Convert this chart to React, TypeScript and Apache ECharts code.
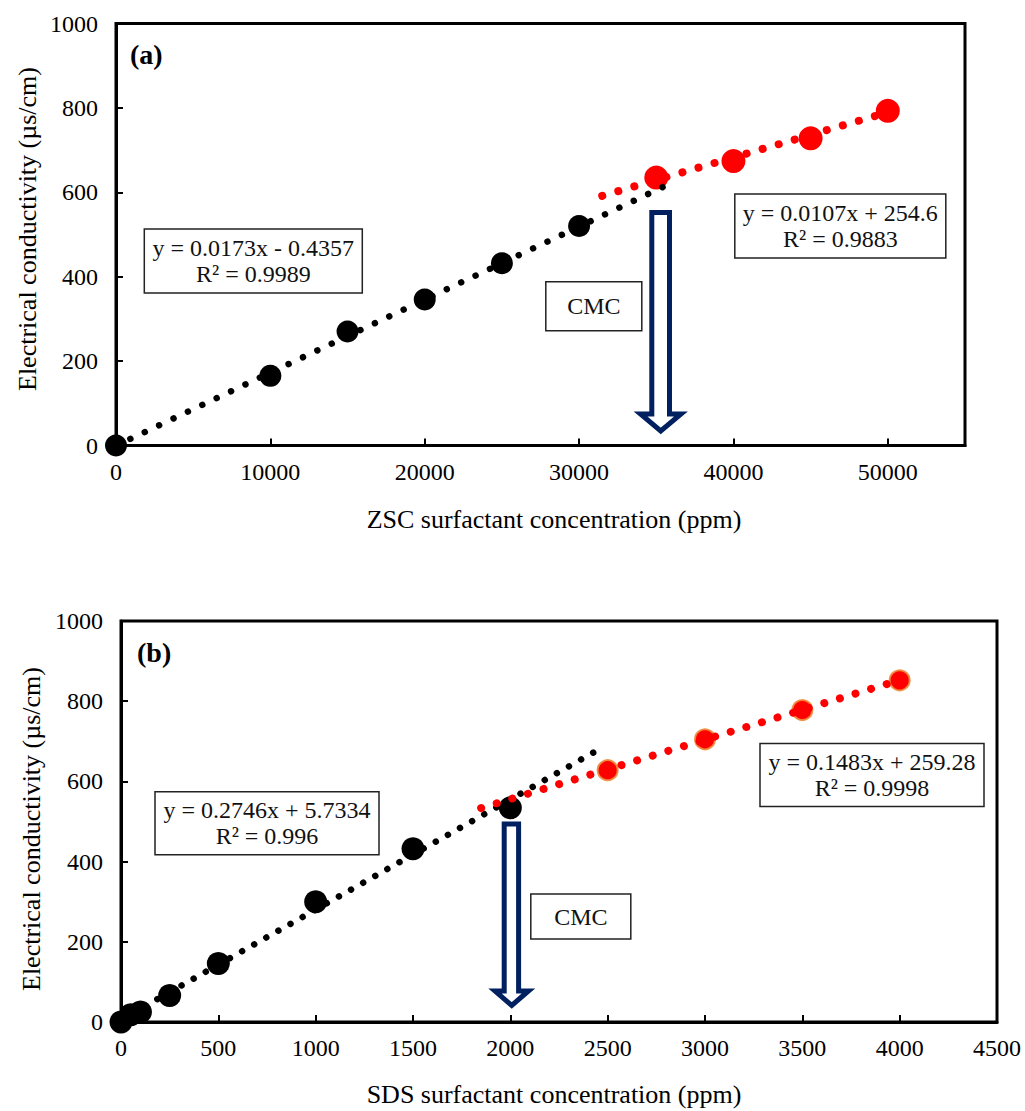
import React, { useEffect, useRef } from 'react';
import * as echarts from 'echarts';

// ---------- data ----------
const zscBelowX = [0, 10000, 15000, 20000, 25000, 30000];
const zscBelowY = [0, 165, 270, 346, 432, 520];
const zscAboveX = [35000, 40000, 45000, 50000];
const zscAboveY = [635, 674, 728, 793];
const zscFitBelow = [[0, -0.4357], [35700, 617.2]];
const zscFitAbove = [[31500, 591.6], [50000, 789.6]];

const sdsBelowX = [0, 50, 100, 250, 500, 1000, 1500, 2000];
const sdsBelowY = [0, 18, 25, 66, 146, 300, 432, 534];
const sdsAboveX = [2500, 3000, 3500, 4000];
const sdsAboveY = [628, 705, 778, 852];
const sdsFitBelow = [[0, 5.7334], [2450, 678.5]];
const sdsFitAbove = [[1850, 533.6], [4000, 852.5]];

const yTicks = [0, 200, 400, 600, 800, 1000];
const xTicksZsc = [0, 10000, 20000, 30000, 40000, 50000];
const xMaxZsc = 55000;
const xTicksSds = [0, 500, 1000, 1500, 2000, 2500, 3000, 3500, 4000, 4500];

const eqZscBelow = ['y = 0.0173x - 0.4357', 'R² = 0.9989'];
const eqZscAbove = ['y = 0.0107x + 254.6', 'R² = 0.9883'];
const eqSdsBelow = ['y = 0.2746x + 5.7334', 'R² = 0.996'];
const eqSdsAbove = ['y = 0.1483x + 259.28', 'R² = 0.9998'];

const yTitle = 'Electrical conductivity (µs/cm)';
const xTitleZsc = 'ZSC surfactant concentration (ppm)';
const xTitleSds = 'SDS surfactant concentration (ppm)';

// ---------- styling helpers ----------
const SERIF = '"Liberation Serif", "Times New Roman", serif';
const NAVY = '#002060';

const zip = (xs: number[], ys: number[]) => xs.map((x, i) => [x, ys[i]]);

function xAxis(gridIndex: number, ticks: number[], max: number) {
  const last = ticks[ticks.length - 1];
  return {
    type: 'value',
    gridIndex,
    min: ticks[0],
    max,
    interval: ticks[1] - ticks[0],
    axisLine: { show: true, lineStyle: { color: '#000', width: 3 } },
    axisTick: { show: true, inside: true, length: 7, lineStyle: { color: '#000', width: 2 } },
    splitLine: { show: false },
    axisLabel: {
      color: '#000',
      fontSize: 24,
      fontFamily: SERIF,
      margin: 14,
      formatter: (v: number) => (v > last ? '' : String(v)),
    },
  };
}

function yAxis(gridIndex: number) {
  return {
    type: 'value',
    gridIndex,
    min: yTicks[0],
    max: yTicks[yTicks.length - 1],
    interval: yTicks[1] - yTicks[0],
    axisLine: { show: true, lineStyle: { color: '#000', width: 3 } },
    axisTick: { show: true, inside: true, length: 7, lineStyle: { color: '#000', width: 2 } },
    splitLine: { show: false },
    axisLabel: {
      color: '#000',
      fontSize: 24,
      fontFamily: SERIF,
      margin: 18,
      formatter: (v: number) => String(v),
    },
  };
}

function scatter(idx: number, data: number[][], color: string, size: number, border?: string) {
  return {
    type: 'scatter',
    xAxisIndex: idx,
    yAxisIndex: idx,
    data,
    symbol: 'circle',
    symbolSize: size,
    clip: false,
    itemStyle: border
      ? { color, opacity: 1, borderColor: border, borderWidth: 2 }
      : { color, opacity: 1 },
    emphasis: { disabled: true },
  };
}

function trend(idx: number, data: number[][], color: string, width: number, gap: number) {
  return {
    type: 'line',
    xAxisIndex: idx,
    yAxisIndex: idx,
    data,
    symbol: 'none',
    clip: false,
    lineStyle: { color, width, type: [0.01, gap], cap: 'round', opacity: 1 },
    emphasis: { disabled: true },
  };
}

function eqBox(cx: number, cy: number, w: number, h: number, lines: string[]) {
  return [
    {
      type: 'rect',
      shape: { x: cx - w / 2, y: cy - h / 2, width: w, height: h },
      style: { fill: '#fff', stroke: '#222', lineWidth: 1.5 },
      z: 10,
    },
    {
      type: 'text',
      x: cx,
      y: cy,
      z: 11,
      style: {
        text: lines.join('\n'),
        fill: '#111',
        fontSize: 24,
        fontFamily: SERIF,
        lineHeight: 26,
        textAlign: 'center',
        textVerticalAlign: 'middle',
      },
    },
  ];
}

function arrow(l: number, r: number, top: number, hl: number, hr: number, headTop: number, tip: number, lw: number) {
  const mid = (hl + hr) / 2;
  return {
    type: 'polygon',
    z: 9,
    shape: {
      points: [
        [l, top],
        [r, top],
        [r, headTop],
        [hr, headTop],
        [mid, tip],
        [hl, headTop],
        [l, headTop],
      ],
    },
    style: { fill: '#fff', stroke: NAVY, lineWidth: lw, lineJoin: 'miter' },
  };
}

function textEl(x: number, y: number, text: string, size: number, opts: any = {}) {
  return {
    type: 'text',
    x,
    y,
    rotation: opts.rotation || 0,
    z: 11,
    style: {
      text,
      fill: '#000',
      fontSize: size,
      fontFamily: SERIF,
      fontWeight: opts.bold ? 'bold' : 'normal',
      textAlign: opts.align || 'center',
      textVerticalAlign: 'middle',
    },
  };
}

export default function App() {
  const ref = useRef<HTMLDivElement>(null);

  useEffect(() => {
    if (!ref.current) return;
    const chart = echarts.init(ref.current, null, { renderer: 'svg' });
    const option: any = {
      animation: false,
      backgroundColor: '#fff',
      grid: [
        { left: 116, top: 23.5, width: 849, height: 422, show: true, borderColor: '#000', borderWidth: 3, containLabel: false },
        { left: 121, top: 621, width: 876, height: 401, show: true, borderColor: '#000', borderWidth: 3, containLabel: false },
      ],
      xAxis: [xAxis(0, xTicksZsc, xMaxZsc), xAxis(1, xTicksSds, xTicksSds[xTicksSds.length - 1])],
      yAxis: [yAxis(0), yAxis(1)],
      series: [
        scatter(0, zip(zscBelowX, zscBelowY), '#000', 22),
        scatter(0, zip(zscAboveX, zscAboveY), '#ff0000', 24),
        trend(0, zscFitAbove, '#ff0000', 8, 16.7),
        trend(0, zscFitBelow, '#000', 6.5, 15.9),
        scatter(1, zip(sdsBelowX, sdsBelowY), '#000', 23),
        scatter(1, zip(sdsAboveX, sdsAboveY), '#ff0000', 20, 'rgba(240,140,60,0.9)'),
        trend(1, sdsFitBelow, '#000', 6.5, 13.9),
        trend(1, sdsFitAbove, '#ff0000', 8, 16.3),
      ],
      graphic: [
        // panel (a)
        textEl(130, 54, '(a)', 28, { bold: true, align: 'left' }),
        ...eqBox(253.3, 261, 218, 64, eqZscBelow),
        ...eqBox(840.3, 226, 211, 64, eqZscAbove),
        ...eqBox(593.8, 306.3, 96, 49, ['CMC']),
        arrow(651.8, 669.5, 212.5, 640.5, 681, 414, 431, 5),
        textEl(27, 229, yTitle, 26, { rotation: Math.PI / 2 }),
        textEl(554, 519, xTitleZsc, 26),
        // panel (b)
        textEl(137, 652, '(b)', 28, { bold: true, align: 'left' }),
        ...eqBox(267, 823.3, 224, 63, eqSdsBelow),
        ...eqBox(872, 775, 224, 63, eqSdsAbove),
        ...eqBox(580.8, 916.5, 100, 45, ['CMC']),
        arrow(504.2, 518.6, 824, 495, 528.5, 991, 1005.5, 5),
        textEl(31, 829, yTitle, 26, { rotation: Math.PI / 2 }),
        textEl(554, 1094, xTitleSds, 26),
      ],
    };
    chart.setOption(option);
    return () => chart.dispose();
  }, []);

  return (
    <div
      ref={ref}
      style={{ position: 'absolute', left: 0, top: 0, width: 1025, height: 1111, background: '#fff' }}
    />
  );
}
